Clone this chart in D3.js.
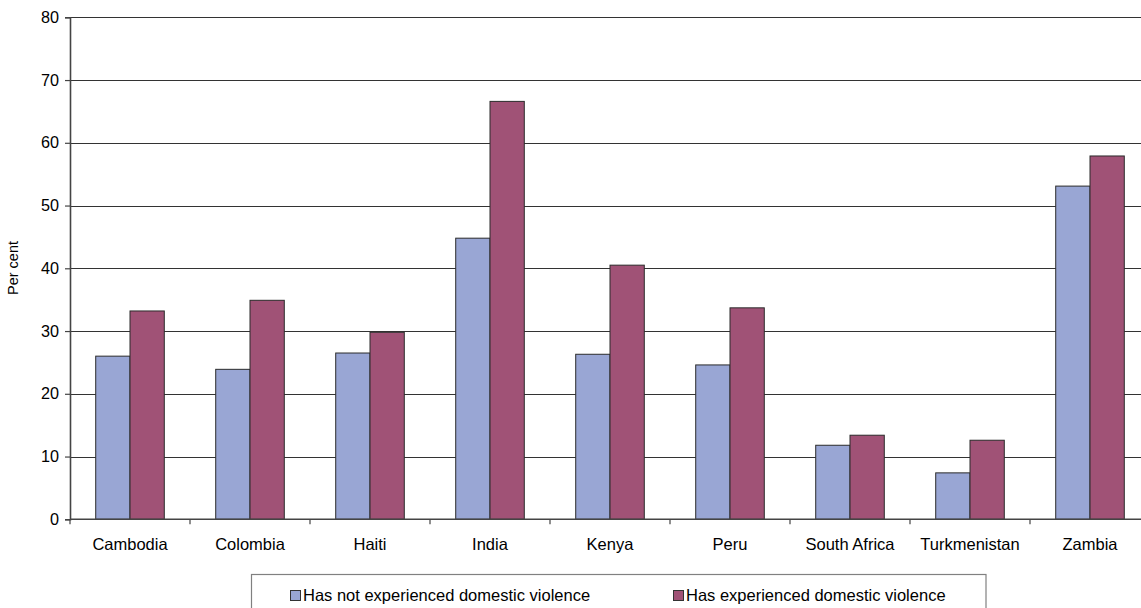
<!DOCTYPE html>
<html>
<head>
<meta charset="utf-8">
<script src="https://cdn.jsdelivr.net/npm/d3@7"></script>
<style>
  html, body { margin: 0; padding: 0; background: #fff; }
  svg { display: block; }
  text { font-family: "Liberation Sans", Arial, sans-serif; fill: #000; }
</style>
</head>
<body>
<svg id="chart" width="1141" height="608"></svg>
<script>
const categories = ["Cambodia", "Colombia", "Haiti", "India", "Kenya", "Peru", "South Africa", "Turkmenistan", "Zambia"];
const seriesNames = ["Has not experienced domestic violence", "Has experienced domestic violence"];
const notExperienced = [26.0, 23.9, 26.5, 44.8, 26.3, 24.6, 11.8, 7.4, 53.1];
const experienced = [33.2, 34.9, 29.8, 66.6, 40.5, 33.7, 13.4, 12.6, 57.9];
const yTicks = [0, 10, 20, 30, 40, 50, 60, 70, 80];
const colors = ["#99A6D4", "#A05276"];

const svg = d3.select("#chart");
const plotLeft = 70, plotRight = 1150, plotTop = 17.3, plotBottom = 519.3;

const x0 = d3.scaleBand().domain(categories).range([plotLeft, plotRight]).paddingInner(0).paddingOuter(0);
const x1 = d3.scaleBand().domain(seriesNames).range([0, x0.bandwidth()]).paddingInner(0).paddingOuter(0.75);
const y = d3.scaleLinear().domain([0, 80]).range([plotBottom, plotTop]);

// gridlines
svg.append("g").selectAll("line").data(yTicks.filter(d => d > 0)).join("line")
  .attr("x1", plotLeft).attr("x2", plotRight)
  .attr("y1", d => Math.round(y(d)) + 0.5).attr("y2", d => Math.round(y(d)) + 0.5)
  .attr("stroke", "#333").attr("stroke-width", 1.2);

// bars
const rows = categories.map((c, i) => ({ cat: c, vals: [notExperienced[i], experienced[i]] }));
const g = svg.append("g");
rows.forEach(r => {
  r.vals.forEach((v, j) => {
    g.append("rect")
      .attr("x", x0(r.cat) + x1(seriesNames[j]))
      .attr("y", y(v))
      .attr("width", x1.bandwidth())
      .attr("height", y(0) - y(v))
      .attr("fill", colors[j])
      .attr("stroke", "#2b2b2b")
      .attr("stroke-width", 1);
  });
});

// y axis
const yAxis = d3.axisLeft(y).tickValues(yTicks).tickSize(5).tickPadding(6);
const ya = svg.append("g").attr("transform", `translate(${plotLeft},0)`).call(yAxis);
ya.select(".domain").attr("stroke", "#444").attr("stroke-width", 1.6);
ya.selectAll(".tick line").attr("stroke", "#444").attr("stroke-width", 1.2);
ya.selectAll(".tick text").style("font-size", "16.2px").style("font-family", "'Liberation Sans', Arial, sans-serif").attr("fill", "#000");

// x axis
const xTickVals = d3.range(categories.length + 1).map(i => plotLeft + i * x0.step());
const xa = svg.append("g");
xa.append("line").attr("x1", plotLeft).attr("x2", plotRight).attr("y1", plotBottom).attr("y2", plotBottom)
  .attr("stroke", "#444").attr("stroke-width", 1.6);
xa.selectAll("line.tk").data(xTickVals).join("line").attr("class", "tk")
  .attr("x1", d => d).attr("x2", d => d).attr("y1", plotBottom).attr("y2", plotBottom + 5)
  .attr("stroke", "#444").attr("stroke-width", 1.2);
xa.selectAll("text").data(categories).join("text")
  .attr("x", d => x0(d) + x0.bandwidth() / 2)
  .attr("y", 549.5)
  .attr("text-anchor", "middle")
  .style("font-size", "16.5px")
  .text(d => d);

// y label
svg.append("text")
  .attr("transform", "translate(18,268) rotate(-90)")
  .attr("text-anchor", "middle")
  .style("font-size", "14.5px")
  .text("Per cent");

// legend
const lg = svg.append("g");
lg.append("rect").attr("x", 251.5).attr("y", 574.5).attr("width", 734.5).attr("height", 60)
  .attr("fill", "#fff").attr("stroke", "#808080").attr("stroke-width", 1.2);
const legendX = [290, 673];
seriesNames.forEach((s, j) => {
  lg.append("rect").attr("x", legendX[j] + 0.5).attr("y", 590.5).attr("width", 10).attr("height", 10)
    .attr("fill", colors[j]).attr("stroke", "#333").attr("stroke-width", 1);
  lg.append("text").attr("x", legendX[j] + 13).attr("y", 601)
    .style("font-size", "16.5px").text(s);
});
</script>
</body>
</html>
